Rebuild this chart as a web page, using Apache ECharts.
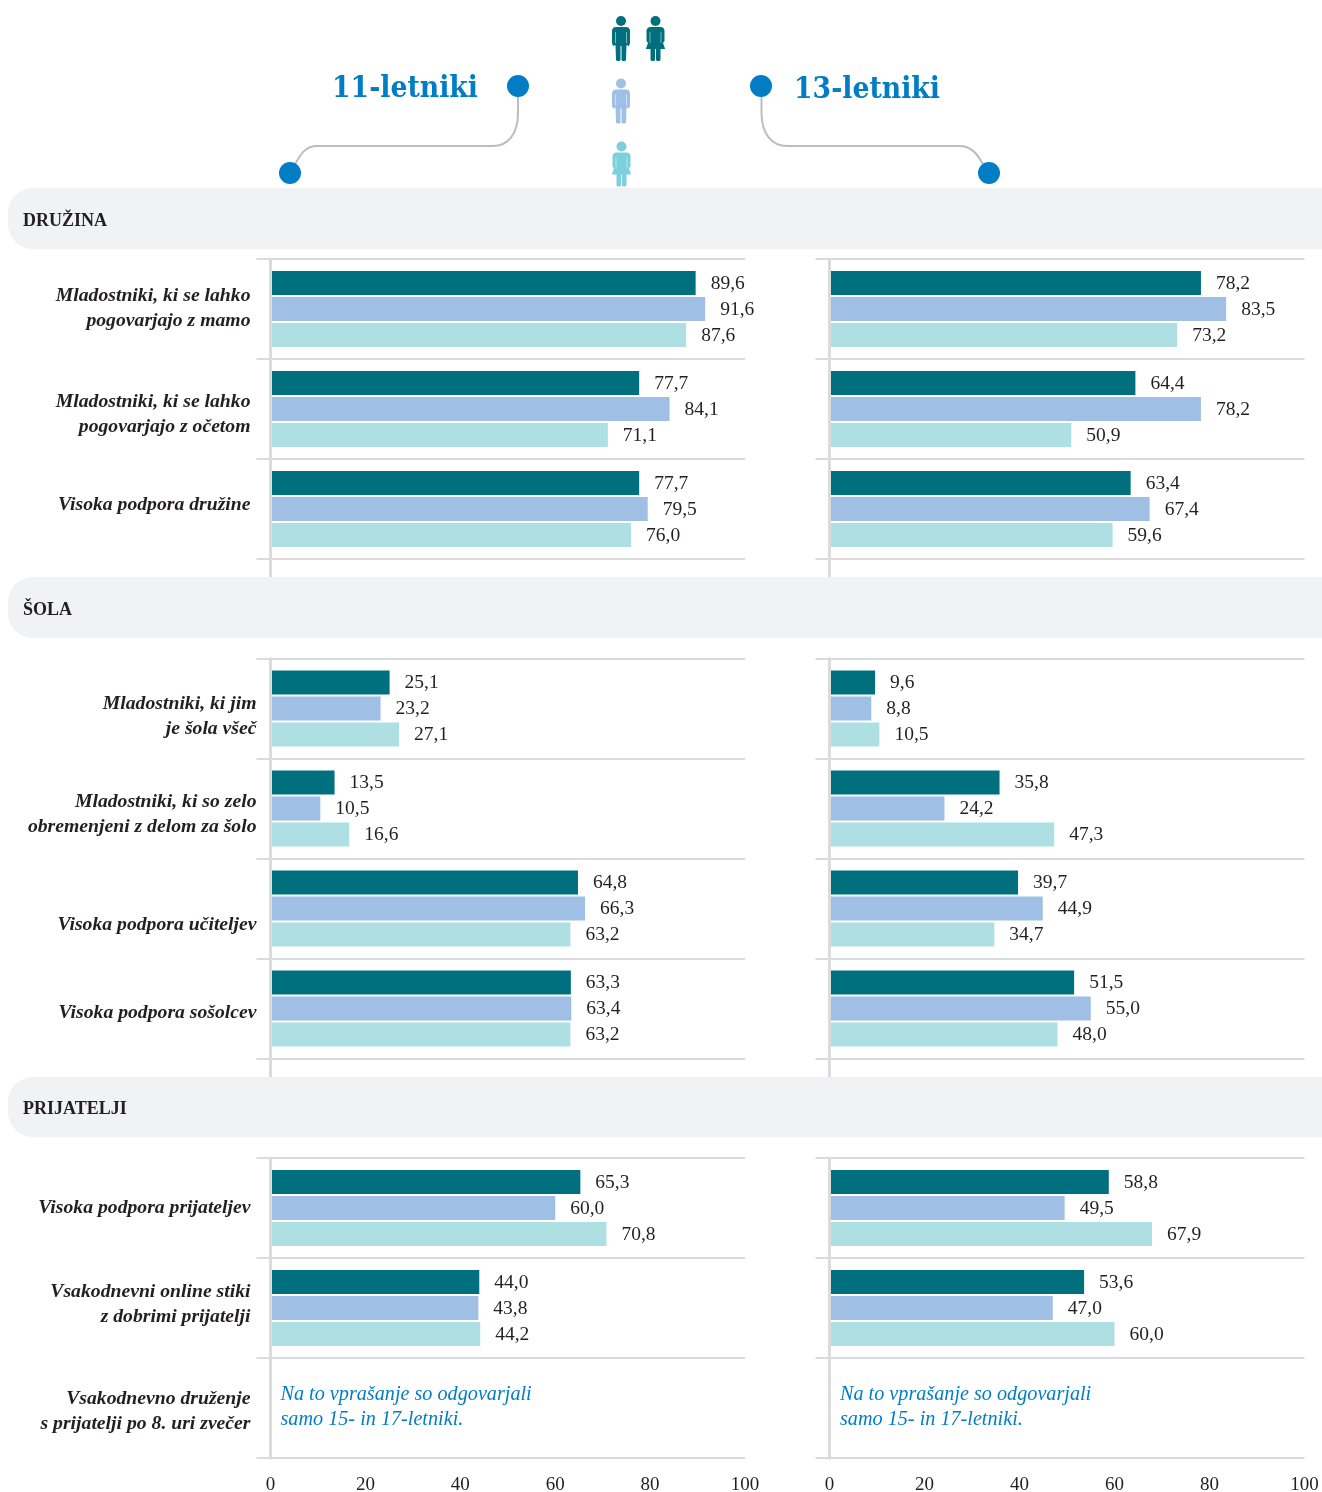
<!DOCTYPE html>
<html lang="sl">
<head>
<meta charset="UTF-8">
<title>Mladostniki</title>
<style>body { margin: 0; background: #fff; }</style>
</head>
<body>
<div id="main" style="width:1322px;height:1492px;"></div>
<script src="https://cdn.jsdelivr.net/npm/echarts@6/dist/echarts.min.js"></script>
<script>
var familyCategories = ['Mladostniki, ki se lahko\npogovarjajo z mamo', 'Mladostniki, ki se lahko\npogovarjajo z očetom', 'Visoka podpora družine'];
var schoolCategories = ['Mladostniki, ki jim\nje šola všeč', 'Mladostniki, ki so zelo\nobremenjeni z delom za šolo', 'Visoka podpora učiteljev', 'Visoka podpora sošolcev'];
var friendsCategories = ['Visoka podpora prijateljev', 'Vsakodnevni online stiki\nz dobrimi prijatelji', 'Vsakodnevno druženje\ns prijatelji po 8. uri zvečer'];

// all / boys / girls, 11 year olds
var family11All = [89.6, 77.7, 77.7];
var family11Boys = [91.6, 84.1, 79.5];
var family11Girls = [87.6, 71.1, 76.0];
var school11All = [25.1, 13.5, 64.8, 63.3];
var school11Boys = [23.2, 10.5, 66.3, 63.4];
var school11Girls = [27.1, 16.6, 63.2, 63.2];
var friends11All = [65.3, 44.0, null];
var friends11Boys = [60.0, 43.8, null];
var friends11Girls = [70.8, 44.2, null];

// all / boys / girls, 13 year olds
var family13All = [78.2, 64.4, 63.4];
var family13Boys = [83.5, 78.2, 67.4];
var family13Girls = [73.2, 50.9, 59.6];
var school13All = [9.6, 35.8, 39.7, 51.5];
var school13Boys = [8.8, 24.2, 44.9, 55.0];
var school13Girls = [10.5, 47.3, 34.7, 48.0];
var friends13All = [58.8, 53.6, null];
var friends13Boys = [49.5, 47.0, null];
var friends13Girls = [67.9, 60.0, null];

var sectionNames = ['DRUŽINA', 'ŠOLA', 'PRIJATELJI'];
var ageTitles = ['11-letniki', '13-letniki'];
var noteText = 'Na to vprašanje so odgovarjali\nsamo 15- in 17-letniki.';

var SERIF = '"Liberation Serif", serif';
var DARK = '#231f20', BLUE = '#007dc5', LINE = '#dbdbdd';
var TEAL = '#00707f', LIGHTBLUE = '#a0bfe5', AQUA = '#aedfe3';

// how far each category label sits above the middle of its row, in px
var familyLift = [1, -5, 4];
var schoolLift = [-8, -6, -16, -4];
var friendsLift = [0, 3.5, -3.5];

var myChart = echarts.init(document.getElementById('main'));

var panels = [
  { left: 270.5, top: 259, h: 300, cats: familyCategories, lift: familyLift, margin: 20, data: [family11All, family11Boys, family11Girls] },
  { left: 270.5, top: 658.5, h: 400, cats: schoolCategories, lift: schoolLift, margin: 14, data: [school11All, school11Boys, school11Girls] },
  { left: 270.5, top: 1158, h: 300, cats: friendsCategories, lift: friendsLift, margin: 20, data: [friends11All, friends11Boys, friends11Girls], bottom: true },
  { left: 829.5, top: 259, h: 300, cats: familyCategories, data: [family13All, family13Boys, family13Girls] },
  { left: 829.5, top: 658.5, h: 400, cats: schoolCategories, data: [school13All, school13Boys, school13Girls] },
  { left: 829.5, top: 1158, h: 300, cats: friendsCategories, data: [friends13All, friends13Boys, friends13Girls], bottom: true }
];

// labels are moved up or down with an empty rich line of 2*lift px on the far side
function liftLabel(text, d) {
  var lines = text.split('\n').map(function (t) { return '{t|' + t + '}'; });
  if (d > 0) lines.push('{g' + (d * 2) + '| }');
  if (d < 0) lines.unshift('{g' + (-d * 2) + '| }');
  return lines.join('\n');
}

var richStyles = { t: { fontFamily: SERIF, fontSize: 19.7, fontStyle: 'italic', fontWeight: 'bold', color: DARK, lineHeight: 25, align: 'right' } };
familyLift.concat(schoolLift, friendsLift).forEach(function (d) {
  var h = Math.abs(d) * 2;
  if (h) richStyles['g' + h] = { fontSize: 1, lineHeight: h };
});

var grid = [], xAxis = [], yAxis = [], series = [];
panels.forEach(function (p, i) {
  grid.push({ left: p.left, top: p.top, width: p.left > 500 ? 475 : 474.5, height: p.h, outerBoundsMode: 'none' });
  xAxis.push({
    gridIndex: i, type: 'value', min: 0, max: 100, interval: 20,
    axisLine: { show: false }, axisTick: { show: false }, splitLine: { show: false },
    axisLabel: { show: !!p.bottom, margin: 18, fontFamily: SERIF, fontSize: 19, color: DARK }
  });
  yAxis.push({
    gridIndex: i, type: 'category', inverse: true, z: 3,
    data: p.cats,
    axisLine: { show: true, lineStyle: { color: LINE, width: 3 } },
    axisTick: { show: true, length: 14, lineStyle: { color: LINE, width: 2 } },
    splitLine: { show: true, lineStyle: { color: LINE, width: 2 } },
    axisLabel: {
      show: !!p.lift, margin: p.margin || 14, interval: 0, align: 'right', rich: richStyles,
      formatter: function (v, k) { return p.lift ? liftLabel(v, p.lift[k]) : v; }
    }
  });
  [TEAL, LIGHTBLUE, AQUA].forEach(function (color, s) {
    series.push({
      type: 'bar', xAxisIndex: i, yAxisIndex: i, data: p.data[s],
      barWidth: 24, barGap: '8.4%', itemStyle: { color: color },
      label: {
        show: true, position: 'right', distance: 15, offset: [0, p.h === 400 ? 0 : 1], fontFamily: SERIF, fontSize: 19.5, color: DARK,
        formatter: function (o) { return o.value.toFixed(1).replace('.', ','); }
      }
    });
  });
});

// little figures in the header, right half only, mirrored when drawn
function person(cx, top, color, skirt) {
  var half = skirt
    ? [[0, 11], [5, 11], [7.5, 11.6], [9, 14], [9, 25], [7.5, 27], [9.7, 33], [5, 33], [5, 44], [4, 45], [1.5, 45], [0.5, 44], [0.5, 33]]
    : [[0, 11], [5, 11], [7.5, 11.6], [9, 14], [9, 27], [8, 30], [5.5, 29], [5, 44], [4, 45], [1.5, 45], [0.5, 44], [0.5, 30]];
  var left = half.slice().reverse().map(function (a) { return [-a[0], a[1]]; });
  return {
    type: 'group', x: cx, y: top, children: [
      { type: 'circle', shape: { cx: 0, cy: 5, r: 5 }, style: { fill: color } },
      { type: 'polygon', shape: { points: half.concat(left) }, style: { fill: color } },
      { type: 'line', shape: { x1: -5.5, y1: 16, x2: -5.5, y2: 27 }, style: { stroke: '#fff', lineWidth: 0.7, opacity: 0.7 } },
      { type: 'line', shape: { x1: 5.5, y1: 16, x2: 5.5, y2: 27 }, style: { stroke: '#fff', lineWidth: 0.7, opacity: 0.7 } }
    ]
  };
}

function band(y, h, name) {
  return [
    { type: 'rect', z: -1, shape: { x: 8, y: y, width: 1330, height: h, r: [25, 0, 0, 25] }, style: { fill: '#f1f2f4' } },
    { type: 'text', x: 23, y: y + h / 2 + 2.5, style: { text: name, fill: DARK, font: 'bold 18px ' + SERIF, verticalAlign: 'middle' } }
  ];
}

function axisStub(x, y1, y2) {
  return { type: 'line', shape: { x1: x, y1: y1, x2: x, y2: y2 }, style: { stroke: LINE, lineWidth: 3 } };
}

function curve(x1, y1, cx1, cy1, cx2, cy2, x2, y2) {
  return { type: 'bezierCurve', shape: { x1: x1, y1: y1, cpx1: cx1, cpy1: cy1, cpx2: cx2, cpy2: cy2, x2: x2, y2: y2 }, style: { fill: null, stroke: '#bdbdc1', lineWidth: 2 } };
}

function stroke(x1, y1, x2, y2) {
  return { type: 'line', shape: { x1: x1, y1: y1, x2: x2, y2: y2 }, style: { stroke: '#bdbdc1', lineWidth: 2 } };
}

function dot(cx, cy) {
  return { type: 'circle', z: 2, shape: { cx: cx, cy: cy, r: 11 }, style: { fill: BLUE } };
}

var TITLE_FONT = 'bold 29.7px "DejaVu Serif Condensed", "DejaVu Serif", serif';

var graphicEls = [].concat(
  band(188, 61, sectionNames[0]),
  band(577, 61, sectionNames[1]),
  band(1077, 60, sectionNames[2]),
  [axisStub(270.5, 559, 577), axisStub(829.5, 559, 577), axisStub(270.5, 1058, 1077), axisStub(829.5, 1058, 1077)],
  [
    stroke(518, 90, 518, 113), curve(518, 113, 518, 134, 508, 146, 493, 146), stroke(493, 146, 317, 146), curve(317, 146, 306, 146, 301, 153, 294, 166),
    stroke(761.5, 90, 761.5, 113), curve(761.5, 113, 761.5, 134, 772, 146, 787, 146), stroke(787, 146, 959, 146), curve(959, 146, 971, 146, 977, 153, 984, 166),
    dot(518, 86), dot(290, 173), dot(761, 86), dot(989, 173)
  ],
  [
    { type: 'text', x: 332, y: 89, style: { text: ageTitles[0], fill: BLUE, font: TITLE_FONT, verticalAlign: 'middle' } },
    { type: 'text', x: 794, y: 90, style: { text: ageTitles[1], fill: BLUE, font: TITLE_FONT, verticalAlign: 'middle' } },
    { type: 'text', x: 280.5, y: 1382, style: { text: noteText, fill: BLUE, font: 'italic 20.2px ' + SERIF, lineHeight: 25 } },
    { type: 'text', x: 840, y: 1382, style: { text: noteText, fill: BLUE, font: 'italic 20.2px ' + SERIF, lineHeight: 25 } }
  ],
  [person(621, 16, TEAL, false), person(655.5, 16, TEAL, true), person(621, 78.5, LIGHTBLUE, false), person(621.5, 141.5, '#7ccfdc', true)]
);

var option = {
  animation: false,
  backgroundColor: '#fff',
  grid: grid,
  xAxis: xAxis,
  yAxis: yAxis,
  series: series,
  graphic: { elements: graphicEls }
};
myChart.setOption(option);
</script>
</body>
</html>
